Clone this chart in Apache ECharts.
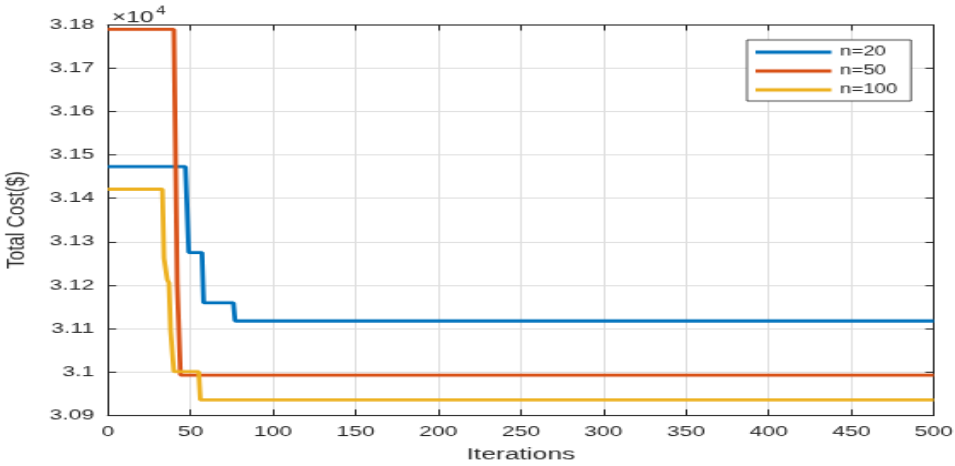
<!DOCTYPE html>
<html>
<head>
<meta charset="utf-8">
<script src="https://cdn.jsdelivr.net/npm/echarts/dist/echarts.min.js"></script>
<style>
  html { margin: 0; padding: 0; background: #fff; overflow: hidden; }
  body { margin: 0; padding: 0; background: #fff; width: 955px; height: 466px; }
  /* figure is laid out at 560x420 and stretched to fill the 955x466 window */
  #chart { width: 560px; height: 420px; transform: scale(1.70536, 1.10952); transform-origin: 0 0; }
</style>
</head>
<body>
<div id="chart"></div>
<script>
// Axis ticks
const xTicks = [0, 50, 100, 150, 200, 250, 300, 350, 400, 450, 500];
const yTicks = [30900, 31000, 31100, 31200, 31300, 31400, 31500, 31600, 31700, 31800];

// Convergence of total cost (in $) — iteration / cost breakpoints per population size
const seriesNames = ['n=20', 'n=50', 'n=100'];
const n20Iter = [0, 47, 49, 57, 58, 76, 77, 500];
const n20Cost = [31473, 31473, 31275, 31275, 31159, 31159, 31117, 31117];
const n50Iter = [0, 40, 42, 44, 500];
const n50Cost = [31790, 31790, 31205, 30992, 30992];
const n100Iter = [0, 33, 34, 36, 37, 38, 39, 40, 55, 56, 500];
const n100Cost = [31421, 31421, 31262, 31212, 31205, 31096, 31092, 31000, 31000, 30935, 30935];

const colors = ['#0072BD', '#D95319', '#EDB120'];
const axisColor = '#262626';
const gridColor = '#dfdfdf';
const FONT = '"Liberation Sans", Arial, Helvetica, sans-serif';

const pairs = (xs, ys) => xs.map((x, i) => [x, ys[i]]);
const seriesData = [pairs(n20Iter, n20Cost), pairs(n50Iter, n50Cost), pairs(n100Iter, n100Cost)];

const xMin = xTicks[0], xMax = xTicks[xTicks.length - 1], xStep = xTicks[1] - xTicks[0];
const yMin = yTicks[0], yMax = yTicks[yTicks.length - 1], yStep = yTicks[1] - yTicks[0];

const yLabel = v => String(parseFloat((v / 1e4).toFixed(2)));

const chart = echarts.init(document.getElementById('chart'), null, { renderer: 'canvas' });

const plotRect = { left: 63.2, right: 12.4, top: 22.5, bottom: 46, outerBoundsMode: 'none', containLabel: false };
const lineStyleAxis = { color: axisColor, width: 1 };

// main axes (grid 0) carry labels, names and grid lines
const xMain = {
  type: 'value', gridIndex: 0, position: 'bottom', min: xMin, max: xMax, interval: xStep,
  name: 'Iterations', nameLocation: 'middle', nameGap: 25.5,
  nameTextStyle: { color: axisColor, fontFamily: FONT, fontSize: 15.5 },
  axisLine: { show: true, onZero: false, lineStyle: lineStyleAxis },
  axisTick: { show: true, inside: true, length: 5, lineStyle: lineStyleAxis },
  axisLabel: { show: true, color: axisColor, fontFamily: FONT, fontSize: 13.5, margin: 8.5 },
  splitLine: { show: true, lineStyle: { color: gridColor, width: 1 } }
};
const yMain = {
  type: 'value', gridIndex: 0, position: 'left', min: yMin, max: yMax, interval: yStep,
  name: 'Total Cost($)', nameLocation: 'middle', nameGap: 39.5, nameRotate: 90,
  nameTextStyle: { color: axisColor, fontFamily: FONT, fontSize: 15.5 },
  axisLine: { show: true, onZero: false, lineStyle: lineStyleAxis },
  axisTick: { show: true, inside: true, length: 5, lineStyle: lineStyleAxis },
  axisLabel: { show: true, color: axisColor, fontFamily: FONT, fontSize: 13.5, margin: 8, formatter: yLabel },
  splitLine: { show: true, lineStyle: { color: gridColor, width: 1 } }
};
// box axes (grid 1, same rectangle): top and right edges with inward ticks
const xBox = {
  type: 'value', gridIndex: 1, position: 'top', min: xMin, max: xMax, interval: xStep,
  axisLine: { show: true, onZero: false, lineStyle: lineStyleAxis },
  axisTick: { show: true, inside: true, length: 5, lineStyle: lineStyleAxis },
  axisLabel: { show: false }, splitLine: { show: false }
};
const yBox = {
  type: 'value', gridIndex: 1, position: 'right', min: yMin, max: yMax, interval: yStep,
  axisLine: { show: true, onZero: false, lineStyle: lineStyleAxis },
  axisTick: { show: true, inside: true, length: 5, lineStyle: lineStyleAxis },
  axisLabel: { show: false }, splitLine: { show: false }
};

const legendIcon = 'path://M0,0H445V28H0Z';

chart.setOption({
  animation: false,
  backgroundColor: '#ffffff',
  grid: [
    Object.assign({ z: 0 }, plotRect),
    Object.assign({ z: 1 }, plotRect)
  ],
  xAxis: [xMain, xBox],
  yAxis: [yMain, yBox],
  legend: {
    orient: 'vertical', left: 438, top: 36,
    padding: [5, 8, 4, 5], itemGap: 5, itemWidth: 44.5, itemHeight: 12,
    backgroundColor: '#ffffff', borderColor: axisColor, borderWidth: 0.8, borderRadius: 0,
    textStyle: { color: axisColor, fontFamily: FONT, fontSize: 12 },
    data: seriesNames.map(name => ({ name, icon: legendIcon }))
  },
  graphic: [
    { type: 'text', left: 65.5, top: 8, z: 10,
      style: { text: '×10', fill: axisColor, font: '14.5px ' + FONT } },
    { type: 'text', left: 91.5, top: 5.5, z: 10,
      style: { text: '4', fill: axisColor, font: '10px ' + FONT } }
  ],
  series: seriesNames.map((name, i) => ({
    name, type: 'line', data: seriesData[i],
    xAxisIndex: 0, yAxisIndex: 0,
    symbol: 'none', showSymbol: false,
    color: colors[i],
    lineStyle: { color: colors[i], width: 2.8 },
    z: 2 + i
  }))
});
</script>
</body>
</html>
